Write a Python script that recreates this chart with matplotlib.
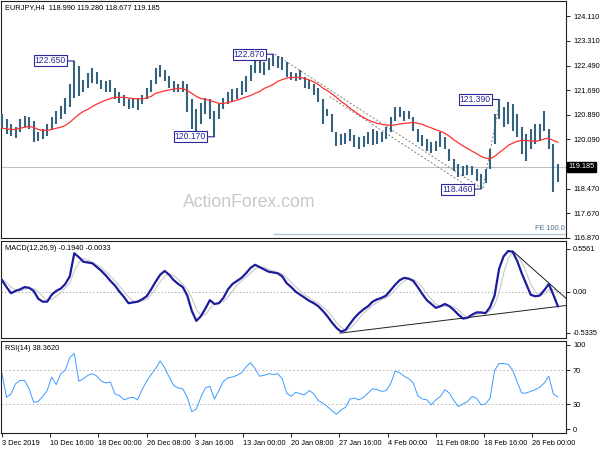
import matplotlib
matplotlib.use('Agg')
import matplotlib.pyplot as plt
import matplotlib.transforms as mtransforms
import numpy as np

plt.rcParams['font.family'] = ['Liberation Sans', 'DejaVu Sans']

# half-day bars, 3 Dec 2019 .. 28 Feb 2020
highs = [120.93, 120.74, 120.58, 120.48, 120.74, 120.84, 120.81, 120.67, 120.31, 120.41,
         120.58, 120.81, 121.00, 121.19, 121.45, 121.88, 122.65, 122.47, 122.04, 122.27,
         122.43, 122.30, 122.04, 121.98, 122.04, 121.78, 121.65, 121.55, 121.39, 121.39,
         121.45, 121.55, 121.78, 122.04, 122.43, 122.53, 122.37, 122.17, 121.98, 121.91,
         121.98, 121.88, 121.39, 121.07, 121.29, 121.45, 121.39, 121.00, 121.23, 121.45,
         121.62, 121.72, 121.78, 121.98, 122.17, 122.53, 122.79, 122.69, 122.63, 122.76,
         122.87, 122.82, 122.79, 122.63, 122.30, 122.27, 122.37, 122.11, 122.04, 121.91,
         121.78, 121.39, 121.07, 120.90, 120.31, 120.25, 120.28, 120.41, 120.22, 120.15,
         120.19, 120.31, 120.41, 120.35, 120.31, 120.48, 120.81, 121.13, 121.13, 121.00,
         121.00, 120.81, 120.41, 120.22, 120.09, 119.99, 120.02, 120.31, 120.15, 119.76,
         119.44, 119.27, 119.21, 119.24, 119.21, 119.11, 118.95, 119.11, 119.76, 120.90,
         121.39, 121.13, 121.32, 121.23, 120.90, 120.48, 120.25, 120.41, 120.58, 120.58,
         121.00, 120.41, 119.92, 119.28]
lows = [120.41, 120.25, 120.19, 120.12, 120.31, 120.48, 120.41, 119.99, 120.02, 120.09,
        120.19, 120.41, 120.58, 120.74, 120.90, 121.13, 121.45, 121.49, 121.62, 121.78,
        121.94, 121.88, 121.72, 121.65, 121.62, 121.39, 121.26, 121.19, 121.07, 121.10,
        121.03, 121.23, 121.39, 121.65, 121.88, 122.11, 121.98, 121.78, 121.65, 121.62,
        121.65, 120.97, 120.41, 120.31, 120.58, 120.90, 120.74, 120.17, 120.74, 121.07,
        121.23, 121.32, 121.39, 121.55, 121.65, 121.98, 122.27, 122.24, 122.20, 122.37,
        122.47, 122.43, 122.37, 122.11, 122.04, 121.98, 122.04, 121.78, 121.72, 121.55,
        121.32, 120.58, 120.84, 120.31, 119.86, 119.89, 119.92, 120.02, 119.83, 119.76,
        119.83, 119.92, 119.89, 119.92, 119.99, 120.09, 120.31, 120.67, 120.81, 120.67,
        120.74, 120.35, 119.99, 119.86, 119.70, 119.63, 119.70, 119.83, 119.76, 119.37,
        119.05, 118.85, 118.88, 118.91, 118.91, 118.72, 118.46, 118.66, 119.11, 119.92,
        120.74, 120.48, 120.58, 120.35, 120.15, 119.60, 119.37, 119.76, 119.92, 120.02,
        120.35, 119.76, 118.36, 118.68]
ma = [120.45, 120.43, 120.41, 120.41, 120.45, 120.48, 120.51, 120.48, 120.41, 120.38,
      120.38, 120.41, 120.45, 120.48, 120.54, 120.64, 120.77, 120.90, 121.00, 121.07,
      121.16, 121.24, 121.31, 121.37, 121.42, 121.46, 121.46, 121.46, 121.44, 121.42,
      121.41, 121.41, 121.44, 121.49, 121.59, 121.63, 121.67, 121.70, 121.73, 121.75,
      121.75, 121.68, 121.59, 121.49, 121.42, 121.39, 121.36, 121.31, 121.26, 121.26,
      121.29, 121.33, 121.37, 121.42, 121.47, 121.52, 121.59, 121.65, 121.75, 121.81,
      121.88, 121.98, 122.04, 122.09, 122.11, 122.11, 122.11, 122.07, 122.03, 121.96,
      121.88, 121.76, 121.68, 121.57, 121.46, 121.33, 121.23, 121.10, 121.00, 120.89,
      120.80, 120.72, 120.66, 120.61, 120.58, 120.56, 120.54, 120.56, 120.59, 120.61,
      120.62, 120.64, 120.61, 120.58, 120.51, 120.46, 120.40, 120.35, 120.28, 120.19,
      120.07, 119.97, 119.87, 119.79, 119.70, 119.62, 119.53, 119.47, 119.45, 119.53,
      119.65, 119.76, 119.89, 119.96, 120.02, 120.05, 120.05, 120.04, 120.02, 120.05,
      120.10, 120.12, 120.05, 119.99]
macd = [0.15, 0.06, -0.02, 0.01, 0.03, 0.06, 0.05, 0.01, -0.09, -0.13,
        -0.13, -0.04, 0.01, 0.04, 0.10, 0.20, 0.50, 0.45, 0.39, 0.38,
        0.37, 0.32, 0.27, 0.21, 0.14, 0.08, 0.00, -0.07, -0.15, -0.14,
        -0.13, -0.10, -0.06, 0.03, 0.13, 0.22, 0.27, 0.22, 0.15, 0.10,
        0.06, -0.05, -0.25, -0.38, -0.32, -0.22, -0.11, -0.16, -0.15, -0.08,
        0.03, 0.10, 0.14, 0.18, 0.24, 0.31, 0.35, 0.32, 0.29, 0.26,
        0.25, 0.24, 0.20, 0.11, 0.06, 0.00, -0.04, -0.08, -0.12, -0.15,
        -0.19, -0.25, -0.32, -0.40, -0.47, -0.52, -0.50, -0.42, -0.34, -0.28,
        -0.23, -0.19, -0.13, -0.10, -0.08, -0.05, 0.02, 0.09, 0.15, 0.18,
        0.17, 0.14, 0.06, -0.03, -0.11, -0.16, -0.21, -0.19, -0.16, -0.19,
        -0.24, -0.30, -0.35, -0.34, -0.30, -0.27, -0.27, -0.28, -0.20, -0.05,
        0.30, 0.46, 0.53, 0.52, 0.40, 0.24, 0.10, -0.04, -0.06, -0.05,
        0.02, 0.10, -0.04, -0.19]
signal = [0.16, 0.12, 0.06, 0.02, 0.01, 0.03, 0.05, 0.04, 0.00, -0.06,
          -0.11, -0.10, -0.06, -0.01, 0.05, 0.11, 0.27, 0.38, 0.43, 0.41,
          0.38, 0.35, 0.31, 0.26, 0.20, 0.14, 0.07, 0.00, -0.07, -0.12,
          -0.14, -0.12, -0.10, -0.04, 0.04, 0.13, 0.20, 0.23, 0.21, 0.16,
          0.10, 0.03, -0.08, -0.23, -0.31, -0.30, -0.22, -0.16, -0.14, -0.13,
          -0.07, 0.01, 0.09, 0.14, 0.19, 0.24, 0.30, 0.32, 0.32, 0.29,
          0.27, 0.25, 0.23, 0.18, 0.12, 0.06, 0.01, -0.04, -0.08, -0.12,
          -0.15, -0.20, -0.25, -0.32, -0.40, -0.46, -0.50, -0.48, -0.42, -0.35,
          -0.28, -0.23, -0.18, -0.14, -0.10, -0.08, -0.04, 0.02, 0.09, 0.14,
          0.17, 0.16, 0.12, 0.06, -0.03, -0.10, -0.16, -0.19, -0.19, -0.18,
          -0.20, -0.24, -0.30, -0.33, -0.33, -0.30, -0.28, -0.27, -0.25, -0.18,
          -0.01, 0.24, 0.43, 0.51, 0.48, 0.38, 0.25, 0.10, 0.00, -0.05,
          -0.03, 0.02, 0.03, -0.003]
rsi = [66, 38, 42, 54, 58, 58, 48, 32, 33, 39,
       46, 62, 53, 66, 70, 85, 90, 57, 60, 64,
       66, 63, 57, 55, 56, 42, 40, 35, 37, 38,
       35, 47, 57, 65, 72, 81, 73, 62, 52, 49,
       48, 38, 21, 24, 38, 49, 51, 36, 46, 57,
       61, 62, 64, 67, 74, 79, 72, 63, 64, 66,
       65, 66, 60, 43, 39, 44, 42, 41, 46, 42,
       34, 31, 27, 22, 18, 23, 26, 36, 37, 35,
       38, 43, 48, 47, 45, 46, 54, 69, 67, 63,
       60, 55, 40, 36, 35, 29, 35, 39, 47, 43,
       34, 27, 30, 33, 39, 37, 29, 30, 37, 70,
       78, 78, 77, 70, 56, 43, 43, 45, 47, 50,
       55, 63, 42, 38.36]

date_labels = ['3 Dec 2019', '10 Dec 16:00', '18 Dec 00:00', '26 Dec 08:00', '3 Jan 16:00',
               '13 Jan 00:00', '20 Jan 08:00', '27 Jan 16:00', '4 Feb 00:00', '11 Feb 08:00',
               '18 Feb 16:00', '26 Feb 00:00']
# 119.290 sits under the last price box in the reference, so it is left out
price_ticks = [124.110, 123.310, 122.490, 121.690, 120.890, 120.090, 118.470, 117.670, 116.870]
macd_ticks = [0.5561, 0.0, -0.5335]
macd_tick_labels = ['0.5561', '0.00', '-0.5335']
rsi_ticks = [100, 70, 30, 0]

last_price = 119.185
swing_idx = [16, 47, 60, 110, 106]
swing_val = [122.650, 120.170, 122.870, 121.390, 118.460]
fe_level = 116.98
fe_start = 60
# fibonacci expansion points (bar, price)
fe_pts_x = [60.4, 106.4, 110.2]
fe_pts_y = [122.87, 118.46, 121.39]
chan_x = [72.5, 103.5]
chan_y = [121.48, 118.51]
# macd trendlines (bar, value)
tl1_x = [74.8, 124.8]
tl1_y = [-0.54, -0.18]
tl2_x = [113.0, 124.8]
tl2_y = [0.53, -0.086]

idx = np.arange(len(highs))
xmin, xmax = -0.22, 124.8
bar_col = '#35637f'
fs = 5.3

fig = plt.figure(figsize=(6, 4.5), dpi=100)
ax1 = fig.add_axes([1/600, 1-238/450, 565/600, 237/450])
ax2 = fig.add_axes([1/600, 1-338.3/450, 565/600, 97.3/450])
ax3 = fig.add_axes([1/600, 1-433.3/450, 565/600, 92.3/450])

for ax in (ax1, ax2, ax3):
    ax.set_xlim(xmin, xmax)
    ax.yaxis.tick_right()
    ax.tick_params(axis='y', labelsize=fs, length=3, width=0.6, pad=2)
    for s in ax.spines.values():
        s.set_linewidth(0.8)
        s.set_color('#202020')
for ax in (ax1, ax2):
    ax.set_xticks([])

# main price panel
ax1.vlines(idx, lows, highs, color=bar_col, lw=1.5, zorder=3)
ax1.plot(idx, ma, color='#ff3030', lw=0.9, zorder=4)
ax1.axhline(last_price, color='#c0c0c0', lw=0.8, zorder=1)
ax1.plot(fe_pts_x, fe_pts_y, color='#808080', lw=0.7, ls=(0, (2, 2)), zorder=2)
ax1.plot(chan_x, chan_y, color='#808080', lw=0.7, ls=(0, (2, 2)), zorder=2)
ax1.hlines(fe_level, fe_start, xmax, color='#b0c4de', lw=1.0)
ax1.text(xmax - 0.3, fe_level + 0.07, 'FE 100.0', ha='right', va='bottom', fontsize=fs, color='#4f6f8f')
ax1.set_ylim(116.86, 124.61)
ax1.set_yticks(price_ticks)
ax1.set_yticklabels(['%.3f' % v for v in price_ticks])
ax1.text(0.007, 0.988, 'EURJPY,H4  118.990 119.280 118.677 119.185', transform=ax1.transAxes,
         ha='left', va='top', fontsize=fs)
ax1.text(0.322, 0.148, 'ActionForex.com', transform=ax1.transAxes, ha='left', va='center',
         fontsize=12.7, color='#c8c8c8', zorder=0)

for i, v in zip(swing_idx, swing_val):
    ax1.annotate('%.3f' % v, xy=(i, v), xytext=(-6, 0), textcoords='offset points',
                 ha='right', va='center', fontsize=6.2, color='#2a2a9a',
                 bbox=dict(boxstyle='square,pad=0.12', fc='white', ec='#2a2a9a', lw=0.8),
                 arrowprops=dict(arrowstyle='-', color='#2a2a9a', lw=0.8, shrinkA=0, shrinkB=0),
                 zorder=6)

trans = mtransforms.blended_transform_factory(ax1.transAxes, ax1.transData)
ax1.text(1.004, last_price, '%.3f' % last_price, transform=trans, ha='left', va='center',
         fontsize=fs, color='white', clip_on=False, zorder=20,
         bbox=dict(boxstyle='square,pad=0.2', fc='black', ec='black'))

# MACD panel
ax2.axhline(0, color='#b0b0b0', lw=0.7, ls=(0, (1.5, 2)))
ax2.plot(idx, signal, color='#c8c8c8', lw=0.8)
ax2.plot(idx, macd, color='#1c1c9c', lw=1.6, zorder=5)
ax2.plot(tl1_x, tl1_y, color='#202020', lw=0.7)
ax2.plot(tl2_x, tl2_y, color='#202020', lw=0.7)
ax2.set_ylim(-0.607, 0.660)
ax2.set_yticks(macd_ticks)
ax2.set_yticklabels(macd_tick_labels)
ax2.text(0.007, 0.955, 'MACD(12,26,9) -0.1940 -0.0033', transform=ax2.transAxes,
         ha='left', va='top', fontsize=fs, zorder=1)

# RSI panel
ax3.axhline(70, color='#c0c0c0', lw=0.7, ls=(0, (2, 2)))
ax3.axhline(30, color='#c0c0c0', lw=0.7, ls=(0, (2, 2)))
ax3.plot(idx, rsi, color='#3d9bff', lw=0.7)
ax3.set_ylim(-4.7, 104.7)
ax3.set_yticks(rsi_ticks)
ax3.set_yticklabels([str(v) for v in rsi_ticks])
ax3.text(0.007, 0.955, 'RSI(14) 38.3620', transform=ax3.transAxes,
         ha='left', va='top', fontsize=fs)
ax3.set_xticks([k * 32 / 3 for k in range(len(date_labels))])
ax3.set_xticklabels(date_labels)
ax3.tick_params(axis='x', labelsize=fs, length=3, width=0.6, pad=1.5)
for lab in ax3.get_xticklabels():
    lab.set_ha('left')

fig.savefig('out.png', dpi=100)
